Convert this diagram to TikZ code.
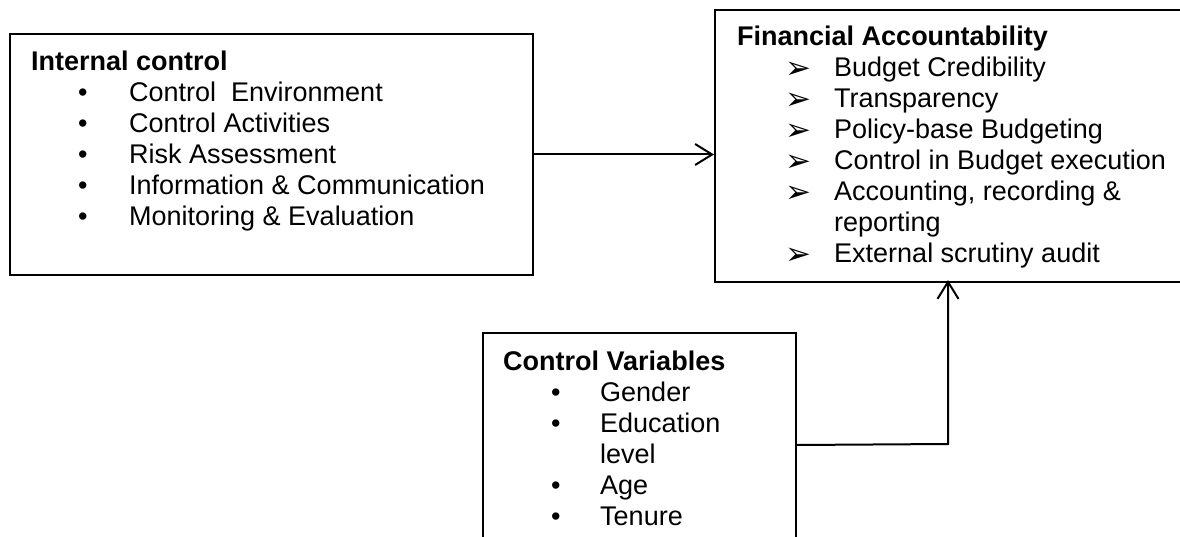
\documentclass[tikz,border=0pt]{standalone}
\usepackage{fontspec}
\setmainfont{Liberation Sans}
\newfontfamily\dejavu{DejaVu Sans}
\usetikzlibrary{arrows.meta}
\begin{document}
\begin{tikzpicture}[x=1pt,y=-1pt,
  box/.style={draw=black, line width=2pt, anchor=north west, inner sep=0pt, fill=none},
  txt/.style={anchor=base west, inner sep=0pt, font=\fontsize{27}{31}\selectfont},
  ttl/.style={txt, font=\fontsize{27}{31}\selectfont\bfseries},
  bul/.style={anchor=base west, inner sep=0pt, font=\fontsize{27}{31}\selectfont},
  abul/.style={anchor=base west, inner sep=0pt, font=\fontsize{31}{31}\dejavu},
  arr/.style={line width=2pt, -{Straight Barb[length=17pt,width=21pt,line width=2pt]}}
]
\clip (0,0) rectangle (1180,537);
\fill[white] (0,0) rectangle (1180,537);

% boxes
\node[box, minimum width=523pt, minimum height=241pt] (ic) at (9,33) {};
\node[box, minimum width=480pt, minimum height=272pt] (fa) at (714,9) {};
\node[box, minimum width=313pt, minimum height=224pt] (cv) at (482,332) {};

% Internal control
\node[ttl] (ict) at (31,71) {Internal control};
\foreach \i/\t in {1/Control\ \ Environment, 2/Control Activities, 3/Risk Assessment, 4/Information \& Communication, 5/Monitoring \& Evaluation}{
  \node[bul] (icb\i) at (78,{71+31*\i}) {•};
  \node[txt] (ici\i) at (129,{71+31*\i}) {\t};
}

% Financial Accountability
\node[ttl] (fat) at (737,46) {Financial Accountability};
\foreach \i/\t in {1/Budget Credibility, 2/Transparency, 3/Policy-base Budgeting, 4/Control in Budget execution, 5/{Accounting, recording \&}, 7/External scrutiny audit}{
  \node[abul] (fab\i) at (785,{48+31*\i}) {➢};
  \node[txt] (fai\i) at (834,{46+31*\i}) {\t};
}
\node[txt] (fai6) at (834,{46+31*6}) {reporting};

% Control Variables
\node[ttl] (cvt) at (503,370) {Control Variables};
\foreach \i/\t/\y in {1/Gender/401, 2/Education/432, 4/Age/494, 5/Tenure/525}{
  \node[bul] (cvb\i) at (551,\y) {•};
  \node[txt] (cvi\i) at (600,\y) {\t};
}
\node[txt] (cvi3) at (600,463) {level};

% connectors
\draw[arr] (ic.east) -- (ic.east -| fa.west);
\coordinate (turn) at (948,444);
\draw[arr, shorten >=-3pt] (cv.east) -- (turn) -- (turn |- fa.south);
\end{tikzpicture}
\end{document}
